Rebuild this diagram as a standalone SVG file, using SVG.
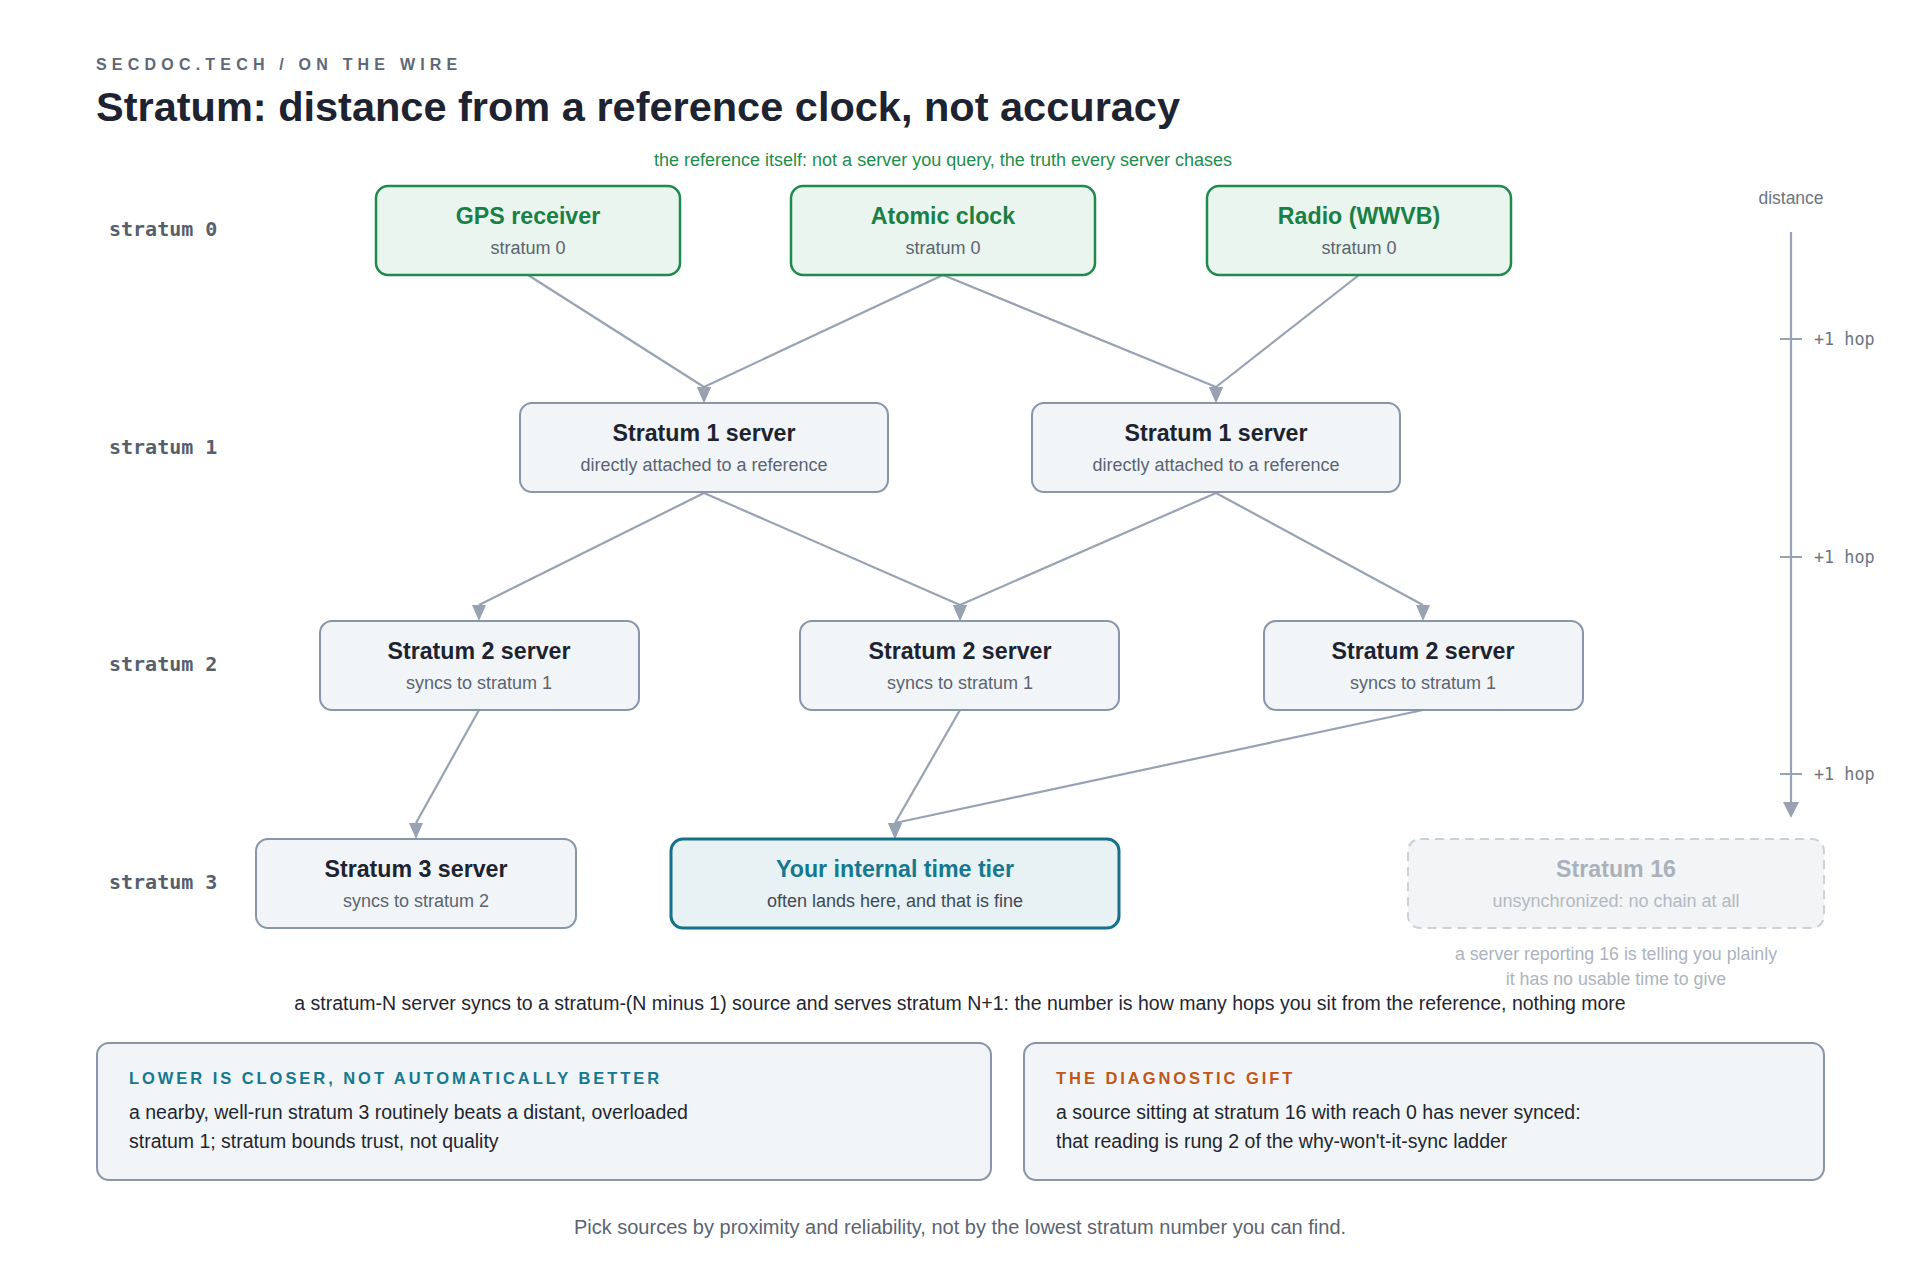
<svg xmlns="http://www.w3.org/2000/svg" width="1920" height="1280" viewBox="0 0 1920 1280">
<defs>
<marker id="arr" viewBox="0 0 14 16" refX="7" refY="0" markerWidth="14" markerHeight="16" orient="0" markerUnits="userSpaceOnUse">
<path d="M0,0 L14,0 L7,16 Z" fill="#97a3b3"/>
</marker>
<style>
.sans{font-family:"Liberation Sans",Arial,sans-serif}
.node rect{rx:12;ry:12}
.gray rect{fill:#f1f5f8;stroke:#8796a8;stroke-width:2}
.green rect{fill:#e9f5ee;stroke:#1e8a4c;stroke-width:2.5}
.teal rect{fill:#e8f1f3;stroke:#17708a;stroke-width:3}
.dead rect{fill:#f3f4f6;stroke:#cbd1d8;stroke-width:2;stroke-dasharray:9 6}
.t{font-family:"Liberation Sans",Arial,sans-serif;font-weight:bold;font-size:23.2px;text-anchor:middle}
.s{font-family:"Liberation Sans",Arial,sans-serif;font-size:18px;text-anchor:middle;fill:#5b6472}
.gray .t{fill:#1d2330}
.green .t{fill:#1a7f45}
.teal .t{fill:#16788f}
.teal .s{fill:#3f4a57}
.dead .t{fill:#a9b1bb}
.dead .s{fill:#b2b9c2}
.edge{stroke:#97a3b3;stroke-width:2.2;fill:none}
.lvl{font-family:"DejaVu Sans Mono","Liberation Mono",monospace;font-weight:bold;font-size:20px;fill:#56606d}
.hop{font-family:"DejaVu Sans Mono","Liberation Mono",monospace;font-size:16.8px;fill:#6b7583}
.card rect{fill:#f1f5f8;stroke:#8796a8;stroke-width:2;rx:12;ry:12}
.ch{font-family:"Liberation Sans",Arial,sans-serif;font-weight:bold;font-size:16.5px;letter-spacing:2.95px}
.cb{font-family:"Liberation Sans",Arial,sans-serif;font-size:19.5px;fill:#1f2630}
</style>
</defs>
<rect width="1920" height="1280" fill="#ffffff"/>

<text x="96" y="70" class="sans" font-weight="bold" font-size="16" letter-spacing="5.2" fill="#5e6876">SECDOC.TECH / ON THE WIRE</text>
<text x="96" y="121" class="sans" font-weight="bold" font-size="41.5" fill="#1d2330">Stratum: distance from a reference clock, not accuracy</text>
<text x="943" y="166" class="sans" font-size="18" fill="#1e8e4a" text-anchor="middle">the reference itself: not a server you query, the truth every server chases</text>

<g id="levels">
<text x="109" y="236" class="lvl">stratum 0</text>
<text x="109" y="454" class="lvl">stratum 1</text>
<text x="109" y="671" class="lvl">stratum 2</text>
<text x="109" y="889" class="lvl">stratum 3</text>
</g>

<g id="axis">
<text x="1791" y="204" class="sans" font-size="17.5" fill="#6b7583" text-anchor="middle">distance</text>
<line x1="1791" y1="232" x2="1791" y2="803" stroke="#97a3b3" stroke-width="2.2"/>
<path d="M1783,802 L1799,802 L1791,818 Z" fill="#97a3b3"/>
<line x1="1780" y1="339" x2="1802" y2="339" stroke="#97a3b3" stroke-width="2"/>
<line x1="1780" y1="557" x2="1802" y2="557" stroke="#97a3b3" stroke-width="2"/>
<line x1="1780" y1="774" x2="1802" y2="774" stroke="#97a3b3" stroke-width="2"/>
<text x="1814" y="345" class="hop" xml:space="preserve">+1 hop</text>
<text x="1814" y="563" class="hop" xml:space="preserve">+1 hop</text>
<text x="1814" y="780" class="hop" xml:space="preserve">+1 hop</text>
</g>

<g id="connectors">
<polyline class="edge" points="528,275 704,387 704,387" marker-end="url(#arr)"/>
<polyline class="edge" points="943,275 704,387 704,387" marker-end="url(#arr)"/>
<polyline class="edge" points="943,275 1216,387 1216,387" marker-end="url(#arr)"/>
<polyline class="edge" points="1359,275 1216,387 1216,387" marker-end="url(#arr)"/>
<polyline class="edge" points="704,493 479,605 479,605" marker-end="url(#arr)"/>
<polyline class="edge" points="704,493 960,605 960,605" marker-end="url(#arr)"/>
<polyline class="edge" points="1216,493 960,605 960,605" marker-end="url(#arr)"/>
<polyline class="edge" points="1216,493 1423,605 1423,605" marker-end="url(#arr)"/>
<polyline class="edge" points="479,710 416,823 416,823" marker-end="url(#arr)"/>
<polyline class="edge" points="960,710 895,823 895,823" marker-end="url(#arr)"/>
<polyline class="edge" points="1423,710 895,823 895,823" marker-end="url(#arr)"/>
</g>

<g id="gps" class="node green"><rect x="376" y="186" width="304" height="89"/><text class="t" x="528" y="224">GPS receiver</text><text class="s" x="528" y="254">stratum 0</text></g>
<g id="atomic" class="node green"><rect x="791" y="186" width="304" height="89"/><text class="t" x="943" y="224">Atomic clock</text><text class="s" x="943" y="254">stratum 0</text></g>
<g id="radio" class="node green"><rect x="1207" y="186" width="304" height="89"/><text class="t" x="1359" y="224">Radio (WWVB)</text><text class="s" x="1359" y="254">stratum 0</text></g>

<g id="s1a" class="node gray"><rect x="520" y="403" width="368" height="89"/><text class="t" x="704" y="441">Stratum 1 server</text><text class="s" x="704" y="471">directly attached to a reference</text></g>
<g id="s1b" class="node gray"><rect x="1032" y="403" width="368" height="89"/><text class="t" x="1216" y="441">Stratum 1 server</text><text class="s" x="1216" y="471">directly attached to a reference</text></g>

<g id="s2a" class="node gray"><rect x="320" y="621" width="319" height="89"/><text class="t" x="479" y="659">Stratum 2 server</text><text class="s" x="479" y="689">syncs to stratum 1</text></g>
<g id="s2b" class="node gray"><rect x="800" y="621" width="319" height="89"/><text class="t" x="960" y="659">Stratum 2 server</text><text class="s" x="960" y="689">syncs to stratum 1</text></g>
<g id="s2c" class="node gray"><rect x="1264" y="621" width="319" height="89"/><text class="t" x="1423" y="659">Stratum 2 server</text><text class="s" x="1423" y="689">syncs to stratum 1</text></g>

<g id="s3" class="node gray"><rect x="256" y="839" width="320" height="89"/><text class="t" x="416" y="877">Stratum 3 server</text><text class="s" x="416" y="907">syncs to stratum 2</text></g>
<g id="internal" class="node teal"><rect x="671" y="839" width="448" height="89"/><text class="t" x="895" y="877">Your internal time tier</text><text class="s" x="895" y="907">often lands here, and that is fine</text></g>
<g id="s16" class="node dead"><rect x="1408" y="839" width="416" height="89"/><text class="t" x="1616" y="877">Stratum 16</text><text class="s" x="1616" y="907">unsynchronized: no chain at all</text></g>

<g id="s16note" class="sans" font-size="17.8" fill="#acb3bd" text-anchor="middle">
<text x="1616" y="960">a server reporting 16 is telling you plainly</text>
<text x="1616" y="985">it has no usable time to give</text>
</g>

<text x="960" y="1010" class="sans" font-size="19.5" fill="#1f2630" text-anchor="middle">a stratum-N server syncs to a stratum-(N minus 1) source and serves stratum N+1: the number is how many hops you sit from the reference, nothing more</text>

<g id="card-left" class="card"><rect x="97" y="1043" width="894" height="137"/>
<text class="ch" x="129" y="1084" fill="#16788f">LOWER IS CLOSER, NOT AUTOMATICALLY BETTER</text>
<text class="cb" x="129" y="1119">a nearby, well-run stratum 3 routinely beats a distant, overloaded</text>
<text class="cb" x="129" y="1148">stratum 1; stratum bounds trust, not quality</text>
</g>
<g id="card-right" class="card"><rect x="1024" y="1043" width="800" height="137"/>
<text class="ch" x="1056" y="1084" fill="#c0561a">THE DIAGNOSTIC GIFT</text>
<text class="cb" x="1056" y="1119">a source sitting at stratum 16 with reach 0 has never synced:</text>
<text class="cb" x="1056" y="1148">that reading is rung 2 of the why-won't-it-sync ladder</text>
</g>

<text x="960" y="1234" class="sans" font-size="20" fill="#5b6472" text-anchor="middle">Pick sources by proximity and reliability, not by the lowest stratum number you can find.</text>
</svg>
